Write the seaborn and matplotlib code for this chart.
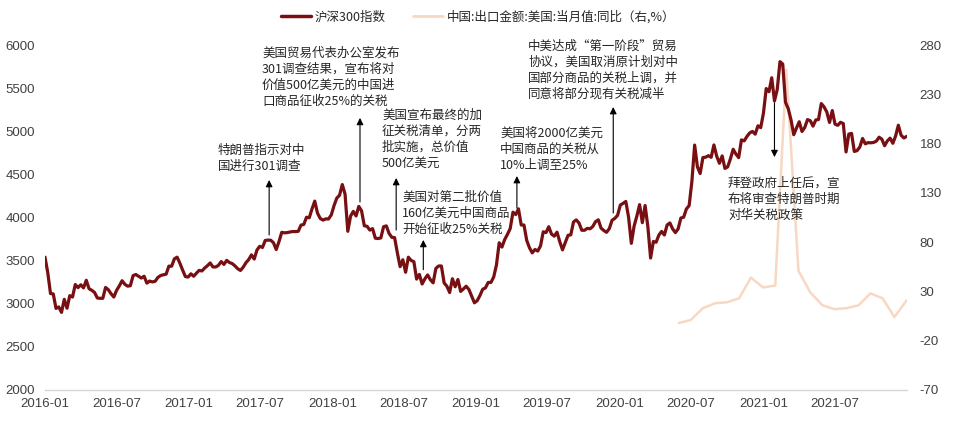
import numpy as np
import pandas as pd
import matplotlib
matplotlib.use("Agg")
import matplotlib.pyplot as plt
from matplotlib.lines import Line2D
import seaborn as sns

# ---------------- data ----------------
# 沪深300指数, weekly (Friday) closes
csi_2016 = [3540, 3361, 3118, 3114, 2946,
            2963, 2900, 3051, 2948,
            3094, 3078, 3223, 3187,
            3220, 3184, 3272, 3174, 3156,
            3131, 3067, 3063, 3063,
            3189, 3163, 3116, 3078,
            3155, 3207, 3267, 3226, 3204,
            3209, 3326, 3339, 3318,
            3298, 3319, 3239, 3263, 3253,
            3260, 3305, 3327, 3336,
            3343, 3436, 3435, 3521,
            3540, 3470, 3390, 3315, 3310]
csi_2017 = [3347, 3319, 3354, 3387,
            3380, 3414, 3441, 3473,
            3427, 3426, 3445, 3489, 3456,
            3503, 3478, 3466, 3439,
            3406, 3386, 3424, 3476,
            3512, 3567, 3518, 3623, 3666,
            3653, 3734, 3738, 3737,
            3707, 3629, 3720, 3828,
            3822, 3825, 3832, 3837, 3837,
            3840, 3912, 3919, 4003,
            3997, 4100, 4190, 4050,
            3988, 3970, 3984, 3983, 4030]
csi_2018 = [4138, 4225, 4258, 4382,
            4271, 3840, 4015, 4071,
            4018, 4129, 4077, 3904, 3898,
            3854, 3871, 3760, 3756,
            3763, 3893, 3903, 3815,
            3770, 3767, 3590, 3430, 3510,
            3365, 3540, 3502, 3488,
            3286, 3340, 3229, 3289, 3334,
            3278, 3242, 3410, 3438,
            3438, 3241, 3203, 3130,
            3290, 3197, 3281, 3143, 3172,
            3203, 3165, 3088, 3011]
csi_2019 = [3035, 3095, 3168, 3184,
            3247, 3247, 3310, 3450,
            3707, 3657, 3745, 3805, 3872,
            4062, 4034, 4100, 3913,
            3913, 3734, 3649, 3590, 3629,
            3611, 3670, 3834, 3825,
            3893, 3808, 3784, 3830,
            3719, 3625, 3708, 3793, 3799,
            3949, 3972, 3935, 3852,
            3852, 3874, 3869, 3896,
            3952, 3973, 3877, 3849, 3828,
            3871, 3968, 3990, 4025]
csi_2020 = [4144, 4164, 4186, 4003, 3700,
            3899, 4016, 4149, 3940,
            4139, 3895, 3530, 3722,
            3713, 3796, 3839, 3797,
            3913, 3937, 3868, 3825, 3868,
            3994, 4003, 4099, 4138,
            4419, 4840, 4588, 4510, 4695,
            4699, 4717, 4698, 4841,
            4712, 4629, 4714, 4569,
            4587, 4681, 4791, 4735, 4695,
            4900, 4888, 4940, 4981,
            4998, 4966, 5063, 5042]
csi_2021 = [5211, 5495, 5458, 5620, 5351,
            5484, 5807, 5779, 5336,
            5262, 5133, 4960, 5038,
            5110, 4997, 5044, 5135, 5123,
            5059, 5131, 5136, 5321,
            5283, 5224, 5102, 5240,
            5082, 5069, 5104, 5089, 4760,
            4967, 4975, 4766, 4775,
            4817, 4916, 4854, 4868,
            4866, 4870, 4885, 4931, 4908,
            4832, 4888, 4920, 4860,
            4945, 5070, 4954, 4922, 4940]
csi_first_friday = ["2016-01-01", "2017-01-06", "2018-01-05",
                    "2019-01-04", "2020-01-03", "2021-01-01"]

# 中国:出口金额:美国:当月值:同比 (%), monthly from 2020-05
export_start = "2020-05-01"
export_yoy = [-2, 1, 13, 18, 19, 23, 44, 34,
              36, 255, 51, 29, 16, 12, 13, 16, 28, 23, 4, 21]

# annotations: text, text top-left (px), arrow tail/head (date, index value)
notes = [
    ("特朗普指示对中\n国进行301调查", (218, 144)),
    ("美国贸易代表办公室发布\n301调查结果，宣布将对\n价值500亿美元的中国进\n口商品征收25%的关税", (262, 47)),
    ("美国宣布最终的加\n征关税清单，分两\n批实施，总价值\n500亿美元", (382, 109)),
    ("美国对第二批价值\n160亿美元中国商品\n开始征收25%关税", (402, 191)),
    ("美国将2000亿美元\n中国商品的关税从\n10%上调至25%", (500, 127)),
    ("中美达成“第一阶段”贸易\n协议，美国取消原计划对中\n国部分商品的关税上调，并\n同意将部分现有关税减半", (528, 40)),
    ("拜登政府上任后，宣\n布将审查特朗普时期\n对华关税政策", (728, 177)),
]
arrow_dates = ["2017-07-24", "2018-03-12", "2018-06-12", "2018-08-20",
               "2019-04-15", "2019-12-16", "2021-01-29"]
arrow_tail = [3797, 4180, 3855, 3395, 4110, 4052, 5330]
arrow_head = [4435, 5155, 4458, 3740, 4481, 5281, 4700]

label_csi = "沪深300指数"
label_exp = "中国:出口金额:美国:当月值:同比（右,%）"

# ---------------- build frames ----------------
frames = []
for start, vals in zip(csi_first_friday,
                       [csi_2016, csi_2017, csi_2018, csi_2019, csi_2020, csi_2021]):
    frames.append(pd.DataFrame({"date": pd.date_range(start, periods=len(vals), freq="7D"),
                                "value": vals}))
df_csi = pd.concat(frames, ignore_index=True)

exp_dates = pd.date_range(export_start, periods=len(export_yoy), freq="MS") + pd.offsets.MonthEnd(0)
df_exp = pd.DataFrame({"date": exp_dates, "value": export_yoy})

# ---------------- style ----------------
sns.set_style("white")
cjk = ["Noto Sans CJK SC", "DejaVu Sans"]
plt.rcParams["font.family"] = cjk
plt.rcParams["axes.unicode_minus"] = False

c_csi = "#780f12"
c_exp = "#f8d8c2"
c_tick = "#404040"

fig = plt.figure(figsize=(9.6, 4.22), dpi=100)
ax = fig.add_axes([45 / 960, 32 / 422, 862 / 960, 345 / 422])
ax2 = ax.twinx()

sns.lineplot(data=df_exp, x="date", y="value", ax=ax2, color=c_exp, lw=1.8, legend=False)
sns.lineplot(data=df_csi, x="date", y="value", ax=ax, color=c_csi, lw=2.3, legend=False)

ax.set_zorder(ax2.get_zorder() + 1)
ax.patch.set_visible(False)

ax.set_xlim(pd.Timestamp("2016-01-01"), pd.Timestamp("2022-01-01"))
ax.set_ylim(2000, 6000)
ax2.set_ylim(-70, 280)
ax.set_yticks(np.arange(2000, 6001, 500))
ax2.set_yticks(np.arange(-70, 281, 50))
xt = pd.date_range("2016-01-01", "2021-07-01", freq="6MS")
ax.set_xticks(xt)
ax.set_xticklabels([d.strftime("%Y-%m") for d in xt])
ax.set_xlabel("")
ax.set_ylabel("")
ax2.set_ylabel("")

for a in (ax, ax2):
    for s in a.spines.values():
        s.set_visible(False)
ax.spines["bottom"].set_visible(True)
ax.spines["bottom"].set_color("#d6d6d6")
ax.spines["bottom"].set_linewidth(1.0)

tick_family = ["Liberation Sans", "DejaVu Sans"]
ax.tick_params(axis="both", length=0, colors=c_tick, labelsize=9.5)
ax.tick_params(axis="y", pad=7)
ax.tick_params(axis="x", pad=6)
ax2.tick_params(axis="y", length=0, colors=c_tick, labelsize=9.5, pad=9)
for lab in ax.get_xticklabels() + ax.get_yticklabels() + ax2.get_yticklabels():
    lab.set_fontfamily(tick_family)

# annotations
for (txt, (px, py)), d, t, h in zip(notes, arrow_dates, arrow_tail, arrow_head):
    fig.text(px / 960, 1 - py / 422, txt, ha="left", va="top", fontsize=9,
             color="#262626", linespacing=1.3, family=cjk)
    ax.annotate("", xy=(pd.Timestamp(d), h), xytext=(pd.Timestamp(d), t),
                arrowprops=dict(arrowstyle="-|>", color="black", lw=0.8,
                                mutation_scale=10, shrinkA=0, shrinkB=0))

handles = [Line2D([], [], color=c_csi, lw=2.5), Line2D([], [], color=c_exp, lw=2.0)]
fig.legend(handles, [label_csi, label_exp], loc="center",
           bbox_to_anchor=(478 / 960, 1 - 17 / 422), ncol=2, frameon=False,
           fontsize=9, handlelength=2.4, columnspacing=2.2, handletextpad=0.3,
           labelcolor="#262626")

fig.savefig("out.png", dpi=100)
